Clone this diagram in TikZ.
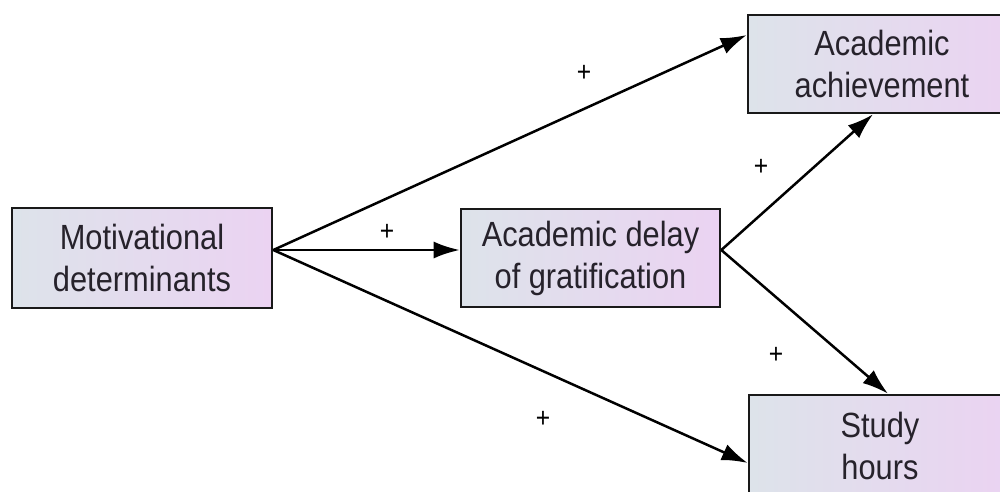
\documentclass[tikz,border=0pt]{standalone}
\usepackage{fontspec}
\setmainfont{Liberation Sans}[FakeStretch=0.88]
\usetikzlibrary{arrows.meta}
\definecolor{boxl}{HTML}{DDE3EA}
\definecolor{boxr}{HTML}{EBD3F2}
\definecolor{txt}{HTML}{26222B}
\tikzset{
  var/.style={draw=black!90, line width=2.6pt, left color=boxl, right color=boxr,
    text=txt, align=center, inner sep=0pt, font=\fontsize{35}{42}\selectfont},
  link/.style={line width=2.5pt, -{Latex[length=26pt,width=17pt]}},
  sign/.style={font=\fontsize{28}{28}\selectfont, text=black, inner sep=0pt}
}
\begin{document}
\begin{tikzpicture}[x=1pt,y=-1pt]
\useasboundingbox (0,0) rectangle (1000,491);
\clip (0,0) rectangle (1000,491);
\node[var, minimum width=260pt, minimum height=100pt] (m) at (142,258) {Motivational\\determinants};
\node[var, minimum width=259pt, minimum height=98pt] (d) at (590.5,258) {Academic delay\\of gratification};
\node[var, minimum width=268pt, minimum height=98pt] (a) at (882,64) {Academic\\achievement};
\node[var, minimum width=262pt, minimum height=102pt] (s) at (880,446) {Study\\hours};
\draw[link] ([yshift=8pt]m.east) -- ([yshift=29pt]a.west);
\draw[link] ([yshift=8pt]m.east) -- ([yshift=8pt]d.west);
\draw[link] ([yshift=8pt]m.east) -- ([yshift=-17pt]s.west);
\draw[link] ([yshift=8pt]d.east) -- ([xshift=-9pt]a.south);
\draw[link] ([yshift=8pt]d.east) -- ([xshift=8pt]s.north);
\node[sign] (p1) at (584,73) {+};
\node[sign] (p2) at (387,232) {+};
\node[sign] (p3) at (761,167) {+};
\node[sign] (p4) at (776,355) {+};
\node[sign] (p5) at (543,419) {+};
\end{tikzpicture}
\end{document}
